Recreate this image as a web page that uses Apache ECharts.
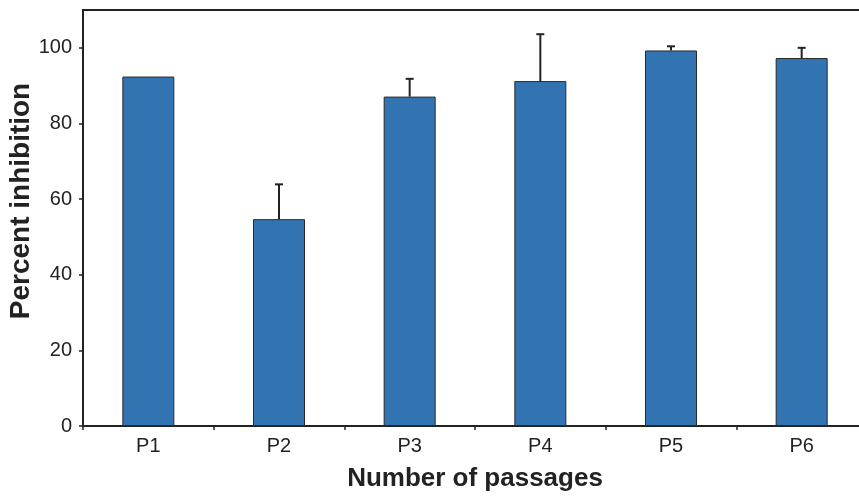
<!DOCTYPE html>
<html>
<head>
<meta charset="utf-8">
<script src="https://cdn.jsdelivr.net/npm/echarts@6/dist/echarts.min.js"></script>
<style>html,body{margin:0;padding:0;background:#fff}#c{width:859px;height:500px}</style>
</head>
<body>
<div id="c"></div>
<script>
const categories = ['P1', 'P2', 'P3', 'P4', 'P5', 'P6'];
const meanValues = [92.4, 54.7, 87.1, 91.2, 99.3, 97.3];
const errorValues = [0, 9.2, 4.7, 12.4, 1.1, 2.7];
const yTicks = [0, 20, 40, 60, 80, 100];

const chart = echarts.init(document.getElementById('c'), null, { renderer: 'canvas' });
const ink = '#222222';
const font = 'Liberation Sans, Arial, Helvetica, sans-serif';

chart.setOption({
  animation: false,
  backgroundColor: '#ffffff',
  grid: {
    left: 83, top: 10, right: -8, bottom: 74,
    outerBoundsMode: 'none',
    containLabel: false,
    show: true, borderColor: ink, borderWidth: 2, backgroundColor: 'transparent'
  },
  xAxis: {
    type: 'category',
    data: categories,
    boundaryGap: true,
    axisLine: { lineStyle: { color: ink, width: 2 } },
    axisTick: { show: true, length: 4, lineStyle: { color: ink, width: 1.5 } },
    axisLabel: { color: ink, fontSize: 20, fontFamily: font, margin: 10 },
    name: 'Number of passages',
    nameLocation: 'middle',
    nameGap: 40,
    nameTextStyle: { color: ink, fontSize: 26, fontWeight: 'bold', fontFamily: font }
  },
  yAxis: {
    type: 'value',
    min: 0, max: 110, interval: 20,
    splitLine: { show: false },
    axisLine: { show: true, lineStyle: { color: ink, width: 2 } },
    axisTick: { show: true, length: 4, lineStyle: { color: ink, width: 1.5 }, customValues: yTicks },
    axisLabel: { color: ink, fontSize: 20, fontFamily: font, margin: 11, customValues: yTicks },
    name: 'Percent inhibition',
    nameLocation: 'middle',
    nameGap: 48,
    nameMoveOverlap: false,
    nameRotate: 90,
    nameTextStyle: { color: ink, fontSize: 28, fontWeight: 'bold', fontFamily: font, padding: [0, 0, 0, 34] }
  },
  series: [
    {
      type: 'bar',
      data: meanValues,
      barWidth: 52,
      itemStyle: { color: '#3274b2', borderColor: '#2a2a2a', borderWidth: 1 },
      z: 2
    },
    {
      type: 'custom',
      z: 5,
      data: meanValues.map((m, i) => [i, m, errorValues[i]]),
      renderItem: function (params, api) {
        const i = api.value(0);
        const m = api.value(1);
        const e = api.value(2);
        if (!e) return null;
        const base = api.coord([i, m]);
        const top = api.coord([i, m + e]);
        const half = 4;
        return {
          type: 'group',
          children: [
            { type: 'line', shape: { x1: base[0], y1: base[1], x2: top[0], y2: top[1] },
              style: { stroke: ink, lineWidth: 2 } },
            { type: 'line', shape: { x1: top[0] - half, y1: top[1], x2: top[0] + half, y2: top[1] },
              style: { stroke: ink, lineWidth: 2 } }
          ]
        };
      }
    }
  ]
});
</script>
</body>
</html>
